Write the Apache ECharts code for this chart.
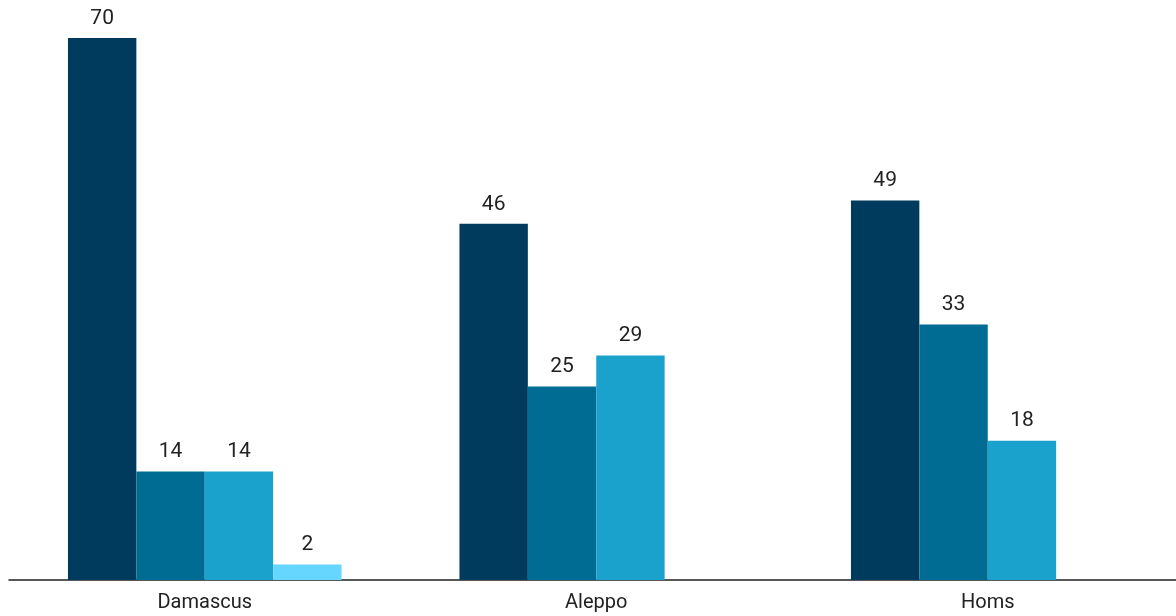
<!DOCTYPE html>
<html><head><meta charset="utf-8">
<script src="https://cdn.jsdelivr.net/npm/echarts@6/dist/echarts.min.js"></script>
<style>html,body{margin:0;padding:0;background:#fff}#c{width:1176px;height:616px}</style>
</head><body><div id="c"></div>
<script>
const categories = ['Damascus', 'Aleppo', 'Homs'];
const series1 = [70, 46, 49];
const series2 = [14, 25, 33];
const series3 = [14, 29, 18];
const series4 = [2, null, null];
const colors = ['#003a5d', '#006c93', '#1aa1cc', '#66d6ff'];

const chart = echarts.init(document.getElementById('c'));
const mk = (data, i) => ({
  type: 'bar', data: data, barWidth: 68.4, barGap: '0%',
  itemStyle: { color: colors[i] },
  label: { show: true, position: 'top', distance: 9, color: '#222', fontSize: 21, fontFamily: 'Roboto' }
});
chart.setOption({
  animation: false,
  grid: { left: 9, right: -7.5, top: 38, bottom: 36, outerBoundsMode: 'none', containLabel: false },
  xAxis: {
    type: 'category', data: categories,
    axisLine: { lineStyle: { color: '#222', width: 1.5 } },
    axisTick: { show: false },
    axisLabel: { color: '#222', fontSize: 20, fontFamily: 'Roboto', margin: 13 }
  },
  yAxis: { type: 'value', min: 0, max: 70, show: false, splitLine: { show: false } },
  series: [mk(series1, 0), mk(series2, 1), mk(series3, 2), mk(series4, 3)]
});
</script></body></html>
